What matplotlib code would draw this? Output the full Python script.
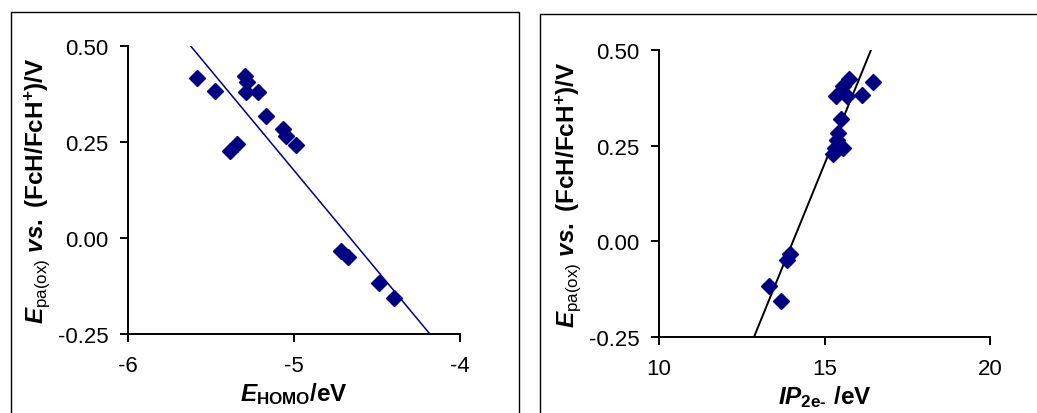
import numpy as np
import matplotlib
matplotlib.use('Agg')
import matplotlib.pyplot as plt
from matplotlib.patches import Rectangle

# oxidation potentials vs FcH/FcH+ (V), shared by both panels
e_pa = [0.417, 0.383, 0.423, 0.405, 0.381, 0.379, 0.319, 0.284,
        0.265, 0.243, 0.227, 0.245, -0.033, -0.050, -0.117, -0.156]
# HOMO energies (eV)
e_homo = [-5.582, -5.473, -5.296, -5.286, -5.290, -5.216, -5.166, -5.069,
          -5.049, -4.985, -5.387, -5.343, -4.714, -4.673, -4.488, -4.398]
# two-electron ionisation potentials (eV)
ip_2e = [16.475, 16.12, 15.75, 15.55, 15.35, 15.67, 15.49, 15.42,
         15.37, 15.32, 15.27, 15.57, 13.96, 13.88, 13.33, 13.68]

# trend lines (slope, intercept)
fit_homo = (-0.5204, -2.426)
fit_ip = (0.2122, -2.981)

navy = '#000080'

plt.rcParams['font.family'] = 'Liberation Sans'
plt.rcParams['axes.unicode_minus'] = False
plt.rcParams['mathtext.fontset'] = 'custom'
plt.rcParams['mathtext.rm'] = 'Liberation Sans:bold'
plt.rcParams['mathtext.sf'] = 'Liberation Sans'
plt.rcParams['mathtext.it'] = 'Liberation Sans:bold:italic'
plt.rcParams['mathtext.bf'] = 'Liberation Sans:bold'

fig = plt.figure(figsize=(10.37, 4.14), dpi=100)

# panel borders
fig.patches.append(Rectangle((11 / 1037, -0.1), 508 / 1037, 1.1 - 13 / 414,
                             transform=fig.transFigure, fill=False,
                             edgecolor='black', linewidth=1.0))
fig.patches.append(Rectangle((540 / 1037, -0.1), 0.6, 1.1 - 15 / 414,
                             transform=fig.transFigure, fill=False,
                             edgecolor='black', linewidth=1.0))

ylabel = r'$\mathit{E}_{\mathsf{pa(ox)}}$ $\mathit{vs.}$ $\mathbf{(FcH/FcH^{+})/V}$'


def style(ax):
    for s in ['top', 'right']:
        ax.spines[s].set_visible(False)
    for s in ['left', 'bottom']:
        ax.spines[s].set_linewidth(1.4)
    ax.tick_params(direction='out', length=6, width=1.4, labelsize=16)
    ax.tick_params(axis='y', pad=8)
    ax.tick_params(axis='x', pad=9)
    ax.set_ylim(-0.25, 0.5)
    ax.set_yticks([-0.25, 0, 0.25, 0.5])
    ax.set_yticklabels(['-0.25', '0.00', '0.25', '0.50'])
    ax.set_ylabel(ylabel, fontsize=17.5, labelpad=4)
    ax.patch.set_visible(False)


# left: E_HOMO
ax1 = fig.add_axes([128 / 1037, 79 / 414, 332 / 1037, 288 / 414])
ax1.set_xlim(-6, -4)
ax1.set_xticks([-6, -5, -4])
xx = np.array([-6, -4])
ax1.plot(xx, fit_homo[0] * xx + fit_homo[1], color=navy, lw=1.1)
ax1.plot(e_homo, e_pa, 'D', color=navy, ms=8.5, mec=navy)
style(ax1)
ax1.set_xlabel(r'$\mathit{E}_{\mathbf{HOMO}}\mathbf{/eV}$', fontsize=17.5, labelpad=3)

# right: IP_2e-
ax2 = fig.add_axes([659 / 1037, 76 / 414, 331 / 1037, 287 / 414])
ax2.set_xlim(10, 20)
ax2.set_xticks([10, 15, 20])
xx = np.array([10, 20])
ax2.plot(xx, fit_ip[0] * xx + fit_ip[1], color='black', lw=1.4)
ax2.plot(ip_2e, e_pa, 'D', color=navy, ms=8.5, mec=navy)
style(ax2)
ax2.set_xlabel(r'$\mathit{IP}_{\mathbf{2e}\text{-}}\ \mathbf{/eV}$', fontsize=17.5, labelpad=3)

fig.savefig('out.png', dpi=100)
